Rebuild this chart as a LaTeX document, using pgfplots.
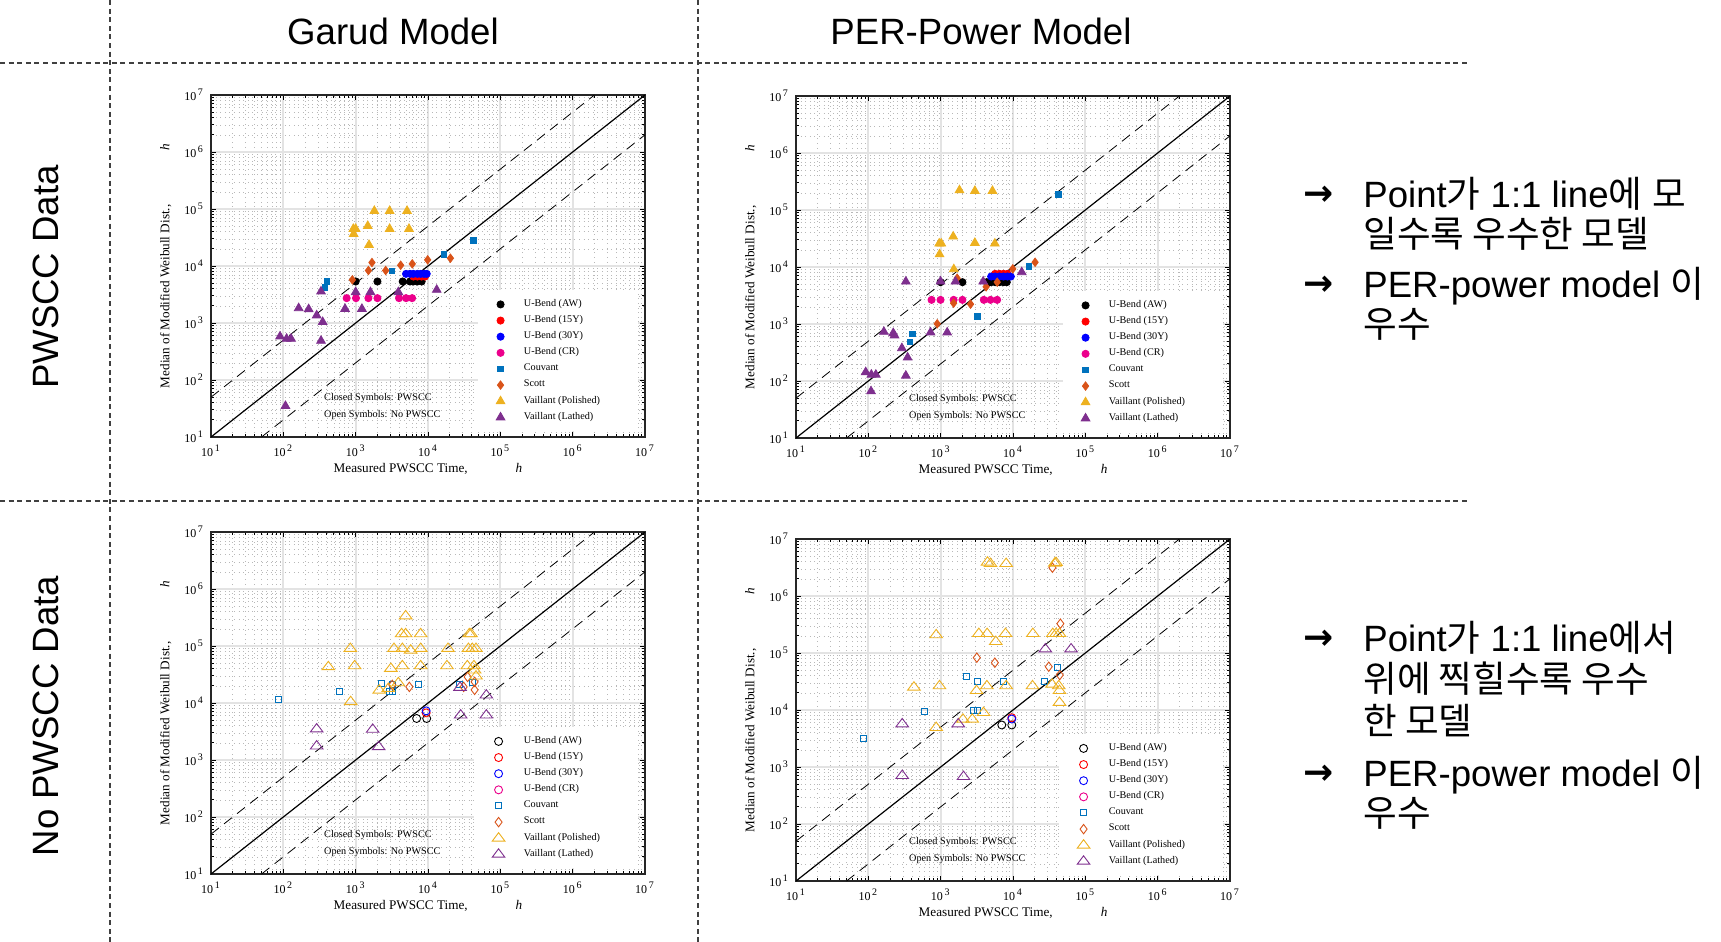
\documentclass[border=0pt]{standalone}
\usepackage{fontspec}
\setmainfont{Liberation Serif}
\newfontfamily\arial{Liberation Sans}
\newfontfamily\dejavu{DejaVu Sans}
\newfontfamily\kr{Noto Sans CJK KR}
\usepackage{pgfplots}
\pgfplotsset{compat=1.18}

\definecolor{colCO}{HTML}{0072BD}
\definecolor{colSC}{HTML}{D95319}
\definecolor{colVP}{HTML}{EDB120}
\definecolor{colVL}{HTML}{7E2F8E}

\tikzset{
  cAW/.style={only marks, mark=*, black, mark size=1.8pt},
  cYa/.style={only marks, mark=*, red, mark size=1.8pt},
  cYb/.style={only marks, mark=*, blue, mark size=1.8pt},
  cCR/.style={only marks, mark=*, magenta, mark size=1.8pt},
  cCO/.style={only marks, mark=square*, colCO, mark size=1.35pt},
  cSC/.style={only marks, mark=diamond*, colSC, mark size=2.1pt},
  cVP/.style={only marks, mark=triangle*, colVP, mark size=2.5pt},
  cVL/.style={only marks, mark=triangle*, colVL, mark size=2.5pt},
  oAW/.style={only marks, mark=o, black, mark size=2pt, mark options={line width=0.45pt}},
  oYa/.style={only marks, mark=o, red, mark size=2pt, mark options={line width=0.45pt}},
  oYb/.style={only marks, mark=o, blue, mark size=2pt, mark options={line width=0.45pt}},
  oCR/.style={only marks, mark=o, magenta, mark size=2pt, mark options={line width=0.45pt}},
  oCO/.style={only marks, mark=square, colCO, mark size=1.5pt, mark options={line width=0.5pt}},
  oSC/.style={only marks, mark=diamond, colSC, mark size=2.35pt, mark options={line width=0.45pt}},
  oVP/.style={only marks, mark=triangle, colVP, mark size=2.8pt, mark options={line width=0.45pt, xscale=1.3}},
  oVL/.style={only marks, mark=triangle, colVL, mark size=2.8pt, mark options={line width=0.45pt, xscale=1.3}},
}

\pgfplotsset{
  every axis/.append style={
    xmode=log, ymode=log,
    xmin=10, xmax=1e7, ymin=10, ymax=1e7,
    scale only axis, width=217pt, height=171pt,
    axis line style={black!85, line width=0.75pt},
    tick align=inside, major tick length=2.5pt, minor tick length=1.4pt,
    tick style={black, line width=0.4pt},
    grid=both,
    major grid style={black!11, line width=1pt},
    minor grid style={black!28, line width=0.3pt, dotted},
    xtick={1e1,1e2,1e3,1e4,1e5,1e6,1e7},
    ytick={1e1,1e2,1e3,1e4,1e5,1e6,1e7},
    xticklabels={10\textsuperscript{\,1},10\textsuperscript{\,2},10\textsuperscript{\,3},10\textsuperscript{\,4},10\textsuperscript{\,5},10\textsuperscript{\,6},10\textsuperscript{\,7}},
    yticklabels={10\textsuperscript{\,1},10\textsuperscript{\,2},10\textsuperscript{\,3},10\textsuperscript{\,4},10\textsuperscript{\,5},10\textsuperscript{\,6},10\textsuperscript{\,7}},
    tick label style={font=\fontsize{6}{7}\selectfont},
    xticklabel style={yshift=-0.5pt},
    xlabel={Measured PWSCC Time,\hspace{24pt}\textit{h}},
    ylabel={Median of Modified Weibull Dist.,\hspace{27pt}\textit{h}},
    label style={font=\fontsize{6.6}{8}\selectfont},
    xlabel style={at={(axis description cs:0.5,-0.094)}, anchor=center},
    ylabel style={at={(axis description cs:-0.104,0.5)}, anchor=center},
    legend cell align=left,
    legend style={at={(0.985,0.43)}, anchor=north east, fill=white, draw=none,
      font=\fontsize{5.1}{6}\selectfont, row sep=0pt, column sep=7.5pt,
      inner xsep=9pt, inner ysep=3pt,
      nodes={inner ysep=0pt, minimum height=8.07pt}},
  },
}

\newcommand\reflines{%
  \addplot[black, line width=0.6pt, forget plot] coordinates {(10,10) (1e7,1e7)};
  \addplot[black, line width=0.4pt, dash pattern=on 5pt off 3.3pt, forget plot] coordinates {(10,50) (2e6,1e7)};
  \addplot[black, line width=0.4pt, dash pattern=on 5pt off 3.3pt, forget plot] coordinates {(50,10) (1e7,2e6)};
  \node[anchor=west, font=\fontsize{5.1}{6}\selectfont, inner sep=0pt] at (rel axis cs:0.26,0.113) {Closed Symbols: PWSCC};
  \node[anchor=west, font=\fontsize{5.1}{6}\selectfont, inner sep=0pt] at (rel axis cs:0.26,0.064) {Open Symbols: No PWSCC};
}
\newcommand\legclosed{%
  \addlegendimage{cAW}\addlegendentry{U-Bend (AW)}
  \addlegendimage{cYa}\addlegendentry{U-Bend (15Y)}
  \addlegendimage{cYb}\addlegendentry{U-Bend (30Y)}
  \addlegendimage{cCR}\addlegendentry{U-Bend (CR)}
  \addlegendimage{cCO}\addlegendentry{Couvant}
  \addlegendimage{cSC}\addlegendentry{Scott}
  \addlegendimage{cVP}\addlegendentry{Vaillant (Polished)\hspace*{8pt}}
  \addlegendimage{cVL}\addlegendentry{Vaillant (Lathed)}
}
\newcommand\legopen{%
  \addlegendimage{oAW}\addlegendentry{U-Bend (AW)}
  \addlegendimage{oYa}\addlegendentry{U-Bend (15Y)}
  \addlegendimage{oYb}\addlegendentry{U-Bend (30Y)}
  \addlegendimage{oCR}\addlegendentry{U-Bend (CR)}
  \addlegendimage{oCO}\addlegendentry{Couvant}
  \addlegendimage{oSC}\addlegendentry{Scott}
  \addlegendimage{oVP}\addlegendentry{Vaillant (Polished)\hspace*{8pt}}
  \addlegendimage{oVL}\addlegendentry{Vaillant (Lathed)}
}

\begin{document}
\begin{tikzpicture}
\begin{scope}[x=0.5pt, y=-0.5pt]
  \path[use as bounding box] (0,0) rectangle (1721,942);
  \draw[black!75, line width=1pt, dash pattern=on 2.5pt off 1.8pt] (110,0) -- (110,942);
  \draw[black!75, line width=1pt, dash pattern=on 2.5pt off 1.8pt] (698,0) -- (698,942);
  \draw[black!75, line width=1pt, dash pattern=on 2.5pt off 1.8pt] (0,63) -- (1470,63);
  \draw[black!75, line width=1pt, dash pattern=on 2.5pt off 1.8pt] (0,501) -- (1470,501);
  \node[font=\arial\fontsize{18.3}{22}\selectfont, inner sep=0pt] at (393,31) {Garud Model};
  \node[font=\arial\fontsize{18.3}{22}\selectfont, inner sep=0pt] at (981,31) {PER-Power Model};
  \node[font=\arial\fontsize{18.3}{22}\selectfont, inner sep=0pt, rotate=90] at (46,277) {PWSCC Data};
  \node[font=\arial\fontsize{18.3}{22}\selectfont, inner sep=0pt, rotate=90] at (46,716) {No PWSCC Data};
  \begin{scope}[every node/.style={anchor=base west, inner sep=0pt, font=\arial\fontsize{18.3}{20}\selectfont}]
    \node[font=\dejavu\bfseries\fontsize{18}{20}\selectfont] at (1303,205) {→};
    \node at (1363,207) {Point{\kr 가} 1:1 line{\kr 에} {\kr 모}};
    \node at (1363,247) {\kr 일수록 우수한 모델};
    \node[font=\dejavu\bfseries\fontsize{18}{20}\selectfont] at (1303,295) {→};
    \node at (1363,297) {PER-power model {\kr 이}};
    \node at (1363,337) {\kr 우수};
    \node[font=\dejavu\bfseries\fontsize{18}{20}\selectfont] at (1303,649) {→};
    \node at (1363,651) {Point{\kr 가} 1:1 line{\kr 에서}};
    \node at (1363,692) {\kr 위에 찍힐수록 우수};
    \node at (1363,734) {\kr 한 모델};
    \node[font=\dejavu\bfseries\fontsize{18}{20}\selectfont] at (1303,784) {→};
    \node at (1363,786) {PER-power model {\kr 이}};
    \node at (1363,826) {\kr 우수};
  \end{scope}
\end{scope}

% ---------- Plot 1: Garud, PWSCC ----------
\begin{axis}[at={(105.5pt,-218.5pt)}, anchor=south west]
\reflines
\legclosed
\addplot[cAW, forget plot] coordinates {(1000,5350) (2000,5350) (4470,5350) (5640,5350) (6270,5350) (7130,5350) (8170,5350)};
\addplot[cYa, forget plot] coordinates {(6270,6530) (7130,6530) (8170,6530) (9100,6530)};
\addplot[cYb, forget plot] coordinates {(4970,7280) (5640,7280) (6270,7280) (7130,7280) (7920,7280) (8820,7280) (9600,7280)};
\addplot[cCR, forget plot] coordinates {(751,2730) (1010,2730) (1500,2730) (2000,2730) (3980,2730) (4970,2730) (6030,2730)};
\addplot[cCO, forget plot] coordinates {(377,4200) (397,5350) (3180,8220) (16500,16100) (42400,28300)};
\addplot[cSC, forget plot] coordinates {(900,5720) (1500,8340) (1680,11500) (2600,8340) (4190,10300) (6060,10900) (9890,12800) (20400,13700)};
\addplot[cVP, forget plot] coordinates {(1810,92500) (2950,92500) (5130,92500) (929,44800) (1000,44800) (938,36500) (1470,50400) (2950,44800) (5460,44800) (1530,23400)};
\addplot[cVL, forget plot] coordinates {(332,3570) (163,1820) (224,1750) (289,1360) (350,1040) (90,580) (111,529) (128,529) (332,488) (1000,3480) (713,1770) (1220,1770) (1600,3480) (3890,3480) (13200,3820) (107,35)};
\end{axis}

% ---------- Plot 2: PER-Power, PWSCC ----------
\begin{axis}[at={(398pt,-219pt)}, anchor=south west]
\reflines
\legclosed
\addplot[cAW, forget plot] coordinates {(996,5420) (2000,5420) (4340,5420) (4990,5420) (5660,5420) (6500,5420) (7380,5420) (8200,5420)};
\addplot[cYa, forget plot] coordinates {(5660,7590) (6500,7590) (7380,7590) (8390,7590)};
\addplot[cYb, forget plot] coordinates {(4990,6810) (5660,6810) (6500,6810) (7380,6810) (8390,6810) (9330,6810)};
\addplot[cCR, forget plot] coordinates {(748,2650) (996,2650) (1510,2650) (2000,2650) (3950,2650) (4890,2650) (6040,2650)};
\addplot[cCO, forget plot] coordinates {(404,664) (379,481) (3200,1370) (16500,10200) (42500,189000)};
\addplot[cSC, forget plot] coordinates {(896,1010) (1510,2320) (1690,6370) (2590,2230) (4250,4490) (6040,5420) (9930,9270) (20200,12100)};
\addplot[cVP, forget plot] coordinates {(1820,222000) (2970,216000) (5200,216000) (955,25800) (1020,25800) (965,16700) (1490,34200) (2970,26500) (5610,25800) (1520,9140)};
\addplot[cVL, forget plot] coordinates {(330,5560) (996,5560) (1600,5560) (3870,5560) (13200,8110) (164,730) (221,692) (230,630) (291,377) (349,259) (724,711) (1230,711) (92,143) (110,129) (127,129) (330,124) (109,66)};
\end{axis}

% ---------- Plot 3: Garud, No PWSCC ----------
\begin{axis}[at={(105.5pt,-437pt)}, anchor=south west]
\reflines
\legopen
\addplot[oAW, forget plot] coordinates {(6970,5350) (9590,5350)};
\addplot[oYa, forget plot] coordinates {(9430,6710)};
\addplot[oYb, forget plot] coordinates {(9430,7280)};
\addplot[oCO, forget plot] coordinates {(86,11500) (601,15900) (2260,21600) (2890,16100) (3250,16100) (3250,20800) (7350,20800) (27100,20800) (41000,23100)};
\addplot[oSC, forget plot] coordinates {(3210,20800) (5520,19200) (31100,19200) (35300,28700) (44100,23500) (44100,17000)};
\addplot[oVP, forget plot] coordinates {(4910,336000) (4320,163000) (4910,163000) (7920,163000) (37200,163000) (39300,163000) (843,89900) (3390,89900) (4420,89900) (5760,84100) (7920,89900) (18900,89900) (36200,89900) (41000,89900) (46100,89900) (419,43000) (968,44700) (3070,40200) (4420,44700) (7920,44700) (18300,44700) (35000,44700) (43200,44700) (44100,37600) (853,10500) (2120,16700) (2830,17900) (3890,22500) (46100,29500)};
\addplot[oVL, forget plot] coordinates {(289,3480) (289,1750) (1720,3430) (2080,1700) (27700,18700) (28300,6110) (64000,13700) (64000,6110)};
\end{axis}

% ---------- Plot 4: PER-Power, No PWSCC ----------
\begin{axis}[at={(398pt,-440.5pt)}, anchor=south west]
\reflines
\legopen
\addplot[oAW, forget plot] coordinates {(7000,5460) (9620,5460)};
\addplot[oYa, forget plot] coordinates {(9620,7330)};
\addplot[oYb, forget plot] coordinates {(9620,6950)};
\addplot[oCO, forget plot] coordinates {(87,3190) (598,9480) (2280,39000) (2880,10000) (3230,10000) (3230,31400) (7380,31400) (27200,31400) (40700,56700)};
\addplot[oSC, forget plot] coordinates {(3160,82800) (5610,67600) (31200,57500) (35100,3140000) (44300,41100) (45200,327000)};
\addplot[oVP, forget plot] coordinates {(4440,3900000) (4880,3690000) (8040,3690000) (37800,3740000) (39400,3850000) (867,207000) (3370,218000) (4390,218000) (5780,158000) (7870,218000) (18800,218000) (35500,218000) (39400,218000) (43900,218000) (427,25000) (964,26400) (3130,21800) (4350,26400) (8040,26400) (18600,26400) (34700,28200) (43000,26400) (43900,21800) (43900,13500) (867,4900) (2030,6860) (2730,6860) (3910,8970)};
\addplot[oVL, forget plot] coordinates {(294,5680) (1750,5680) (28000,117000) (63500,117000) (294,705) (2070,676)};
\end{axis}
\end{tikzpicture}
\end{document}
